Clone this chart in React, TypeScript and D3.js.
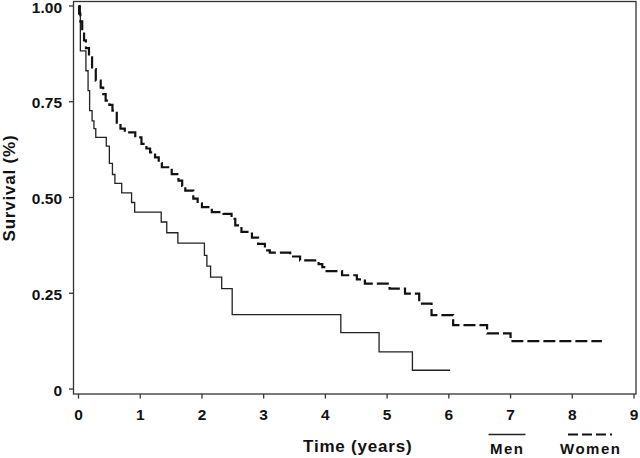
import React from "react";
import * as d3 from "d3";

const menTimes = [0, 0.03, 0.12, 0.155, 0.18, 0.22, 0.25, 0.28, 0.45, 0.5, 0.55, 0.59, 0.7, 0.86, 0.91, 1.34, 1.43, 1.61, 2.04, 2.08, 2.14, 2.32, 2.49, 4.25, 4.87, 5.41, 6.02];
const menSurv = [1, 0.883, 0.831, 0.779, 0.727, 0.7, 0.68, 0.657, 0.634, 0.589, 0.56, 0.537, 0.512, 0.487, 0.462, 0.436, 0.408, 0.381, 0.349, 0.321, 0.292, 0.262, 0.194, 0.147, 0.097, 0.049, 0.049];

const womenTimes = [0, 0.01, 0.03, 0.06, 0.09, 0.12, 0.17, 0.22, 0.28, 0.36, 0.4, 0.44, 0.5, 0.55, 0.62, 0.68, 0.75, 0.92, 1.02, 1.1, 1.16, 1.24, 1.3, 1.35, 1.51, 1.62, 1.68, 1.73, 1.86, 1.93, 2.0, 2.16, 2.35, 2.48, 2.54, 2.64, 2.81, 2.91, 3.02, 3.1, 3.43, 3.59, 3.89, 3.95, 4.02, 4.27, 4.51, 4.64, 5.04, 5.29, 5.52, 5.72, 6.07, 6.62, 7.0, 8.48];
const womenSurv = [1, 0.98, 0.96, 0.935, 0.91, 0.89, 0.866, 0.835, 0.805, 0.787, 0.77, 0.753, 0.742, 0.727, 0.692, 0.68, 0.67, 0.657, 0.64, 0.628, 0.618, 0.605, 0.59, 0.579, 0.561, 0.544, 0.53, 0.518, 0.497, 0.485, 0.475, 0.462, 0.457, 0.444, 0.427, 0.41, 0.395, 0.379, 0.362, 0.356, 0.346, 0.336, 0.326, 0.318, 0.308, 0.297, 0.286, 0.275, 0.262, 0.249, 0.223, 0.193, 0.167, 0.145, 0.125, 0.125];

const xTicks = [0, 1, 2, 3, 4, 5, 6, 7, 8, 9];
const yTicks = [0, 0.25, 0.5, 0.75, 1];
const yTickLabels = ["0", "0.25", "0.50", "0.75", "1.00"];

const FONT = "'Liberation Sans', Arial, Helvetica, sans-serif";

export default function App() {
  const W = 640, H = 458;
  const left = 73.5, top = 1.5, right = 636, bottom = 394;
  const x = d3.scaleLinear().domain([0, 9]).range([78.5, 634]);
  const y = d3.scaleLinear().domain([0, 1]).range([389, 6]);
  const line = d3.line<[number, number]>()
    .x(d => x(d[0]))
    .y(d => y(d[1]))
    .curve(d3.curveStepAfter);
  const menPts: [number, number][] = menTimes.map((t, i) => [t, menSurv[i]]);
  const womenPts: [number, number][] = womenTimes.map((t, i) => [t, womenSurv[i]]);

  return (
    <svg width={W} height={H} style={{ position: "fixed", left: 0, top: 0, background: "#fff" }} fontFamily={FONT}>
      <rect x={0} y={0} width={W} height={H} fill="#fff" />
      {/* frame */}
      <rect x={left} y={top} width={right - left} height={bottom - top} fill="none" stroke="#333" strokeWidth={1.3} />
      {/* y ticks */}
      {yTicks.map((v, i) => (
        <g key={"y" + i}>
          <line x1={left - 4.5} x2={left} y1={y(v)} y2={y(v)} stroke="#333" strokeWidth={1.3} />
          <text x={62} y={y(v) + 6.5} textAnchor="end" fontSize={15.5} fontWeight="bold" fill="#111">{yTickLabels[i]}</text>
        </g>
      ))}
      {/* x ticks */}
      {xTicks.map((v, i) => (
        <g key={"x" + i}>
          <line x1={x(v)} x2={x(v)} y1={bottom} y2={bottom + 4.5} stroke="#333" strokeWidth={1.3} />
          <text x={x(v)} y={419.5} textAnchor="middle" fontSize={15.5} fontWeight="bold" fill="#111">{String(v)}</text>
        </g>
      ))}
      {/* curves */}
      <path d={line(menPts) || ""} fill="none" stroke="#222" strokeWidth={1.3} />
      <path d={line(womenPts) || ""} fill="none" stroke="#111" strokeWidth={2.2} strokeDasharray="12,4" />
      {/* axis titles */}
      <text x={303} y={451.5} fontSize={17} fontWeight="bold" letterSpacing={0.8} fill="#111">Time (years)</text>
      <text transform="translate(14.5,188) rotate(-90)" textAnchor="middle" fontSize={17} fontWeight="bold" letterSpacing={0.8} fill="#111">Survival (%)</text>
      {/* legend */}
      <line x1={488.5} x2={525.5} y1={434.5} y2={434.5} stroke="#222" strokeWidth={1.3} />
      <text x={490} y={453.5} fontSize={15} fontWeight="bold" letterSpacing={1.5} fill="#111">Men</text>
      <line x1={568} x2={612} y1={434.5} y2={434.5} stroke="#111" strokeWidth={2.2} strokeDasharray="10,4" />
      <text x={560} y={453.5} fontSize={15} fontWeight="bold" letterSpacing={1.5} fill="#111">Women</text>
    </svg>
  );
}
